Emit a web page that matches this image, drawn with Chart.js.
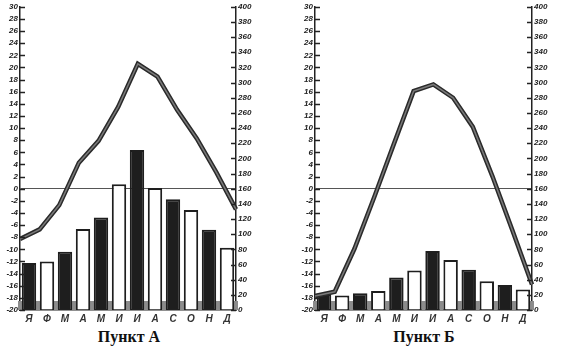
<!DOCTYPE html>
<html>
<head>
<meta charset="utf-8">
<script src="https://cdn.jsdelivr.net/npm/chart.js@4.4.1/dist/chart.umd.min.js"></script>
<style>
body{margin:0;background:#fff;width:566px;height:350px;overflow:hidden;position:relative;}
.box{position:absolute;top:0;}
.caption{position:absolute;top:328px;width:200px;text-align:center;font:bold 16px "Liberation Serif","Times New Roman",serif;color:#111;}
</style>
</head>
<body>
<div class="box" style="left:0px"><canvas id="chartA" width="262" height="328"></canvas></div>
<div class="box" style="left:295px"><canvas id="chartB" width="263" height="328"></canvas></div>
<div class="caption" style="left:29px">Пункт А</div>
<div class="caption" style="left:324px">Пункт Б</div>
<script>
// месяцы, температура (°C) и осадки (мм)
var months = ['Я','Ф','М','А','М','И','И','А','С','О','Н','Д'];
var tempA = [-8.3, -6.7, -2.7, 4.3, 7.9, 13.5, 20.6, 18.5, 13.0, 8.3, 2.7, -3.4];
var precA = [62, 64, 77, 107, 122, 166, 211, 161, 146, 132, 106, 82];
var tempB = [-17.7, -17.0, -9.9, -1.4, 7.4, 16.1, 17.2, 15.0, 10.2, 2.0, -6.8, -15.8];
var precB = [21, 19, 22, 25, 43, 52, 78, 66, 53, 38, 33, 27];

var tickFont = {family:'"Liberation Sans Narrow","Liberation Sans",sans-serif', size:8, style:'italic', weight:'bold'};

// засечки внутрь и серые метки у нижней оси
var axisMarks = {
	id:'axisMarks',
	beforeDatasetsDraw: function(chart){
		var ctx = chart.ctx, x = chart.scales.x, area = chart.chartArea;
		var half = (x.getPixelForValue(1) - x.getPixelForValue(0))/2;
		var start = x.getPixelForValue(0) - half;
		ctx.save();
		ctx.fillStyle = '#8c8c8c';
		for(var i=0;i<=months.length;i++){
			var b = start + i*2*half;
			ctx.fillRect(b-2, area.bottom-9, 4, 9);
		}
		ctx.restore();
	},
	afterDraw: function(chart){
		var ctx = chart.ctx, area = chart.chartArea;
		ctx.save();
		ctx.strokeStyle = '#222';
		ctx.lineWidth = 1.5;
		['y','y1'].forEach(function(id){
			var s = chart.scales[id];
			var x0 = id=='y' ? area.left : area.right;
			var dir = id=='y' ? 1 : -1;
			s.ticks.forEach(function(t){
				var py = Math.round(s.getPixelForValue(t.value))+0.5;
				ctx.beginPath();
				ctx.moveTo(x0, py);
				ctx.lineTo(x0+dir*5, py);
				ctx.stroke();
			});
		});
		ctx.restore();
	}
};

function crearGrafico(id, temps, precs){
	var colores = precs.map(function(v,i){ return i%2==0 ? '#1e1e1e' : '#ffffff'; });
	new Chart(document.getElementById(id), {
		type:'bar',
		data:{
			labels: months,
			datasets:[
				{
					type:'line', data: temps, xAxisID:'x2', yAxisID:'y',
					borderColor:'#7a7a7a', borderWidth:1.5, pointRadius:0, fill:false, order:0
				},
				{
					type:'line', data: temps, xAxisID:'x2', yAxisID:'y',
					borderColor:'#2a2a2a', borderWidth:4.5, pointRadius:0, fill:false, order:1
				},
				{
					data: precs, xAxisID:'x', yAxisID:'y1', grouped:false,
					backgroundColor: colores, borderColor:'#1e1e1e', borderWidth:2,
					barPercentage:0.8, categoryPercentage:1, order:2
				}
			]
		},
		options:{
			responsive:false,
			animation:false,
			layout:{padding:{top:3, left:0, right:0, bottom:0}},
			plugins:{legend:{display:false}, tooltip:{enabled:false}},
			scales:{
				x:{
					offset:true,
					grid:{display:false, drawTicks:false},
					border:{display:true, color:'#222', width:1.5},
					ticks:{font:{family:tickFont.family, size:10, style:'italic', weight:'bold'}, color:'#333', padding:3, maxRotation:0, autoSkip:false},
					afterFit:function(s){ s.height = 18; }
				},
				x2:{
					type:'category', labels: months, offset:false, display:false
				},
				y:{
					position:'left', min:-20, max:30,
					ticks:{stepSize:2, autoSkip:false, font:tickFont, color:'#222', padding:2},
					grid:{drawTicks:false, color:function(c){ return c.tick && c.tick.value===0 ? '#555' : 'rgba(0,0,0,0)'; }},
					border:{display:true, color:'#222', width:1.5},
					afterFit:function(s){ s.width = 20; }
				},
				y1:{
					position:'right', min:0, max:400,
					ticks:{stepSize:20, autoSkip:false, font:tickFont, color:'#222', padding:2},
					grid:{drawTicks:false, drawOnChartArea:false},
					border:{display:true, color:'#222', width:1.5},
					afterFit:function(s){ s.width = 26; }
				}
			}
		},
		plugins:[axisMarks]
	});
}

crearGrafico('chartA', tempA, precA);
crearGrafico('chartB', tempB, precB);
</script>
</body>
</html>
